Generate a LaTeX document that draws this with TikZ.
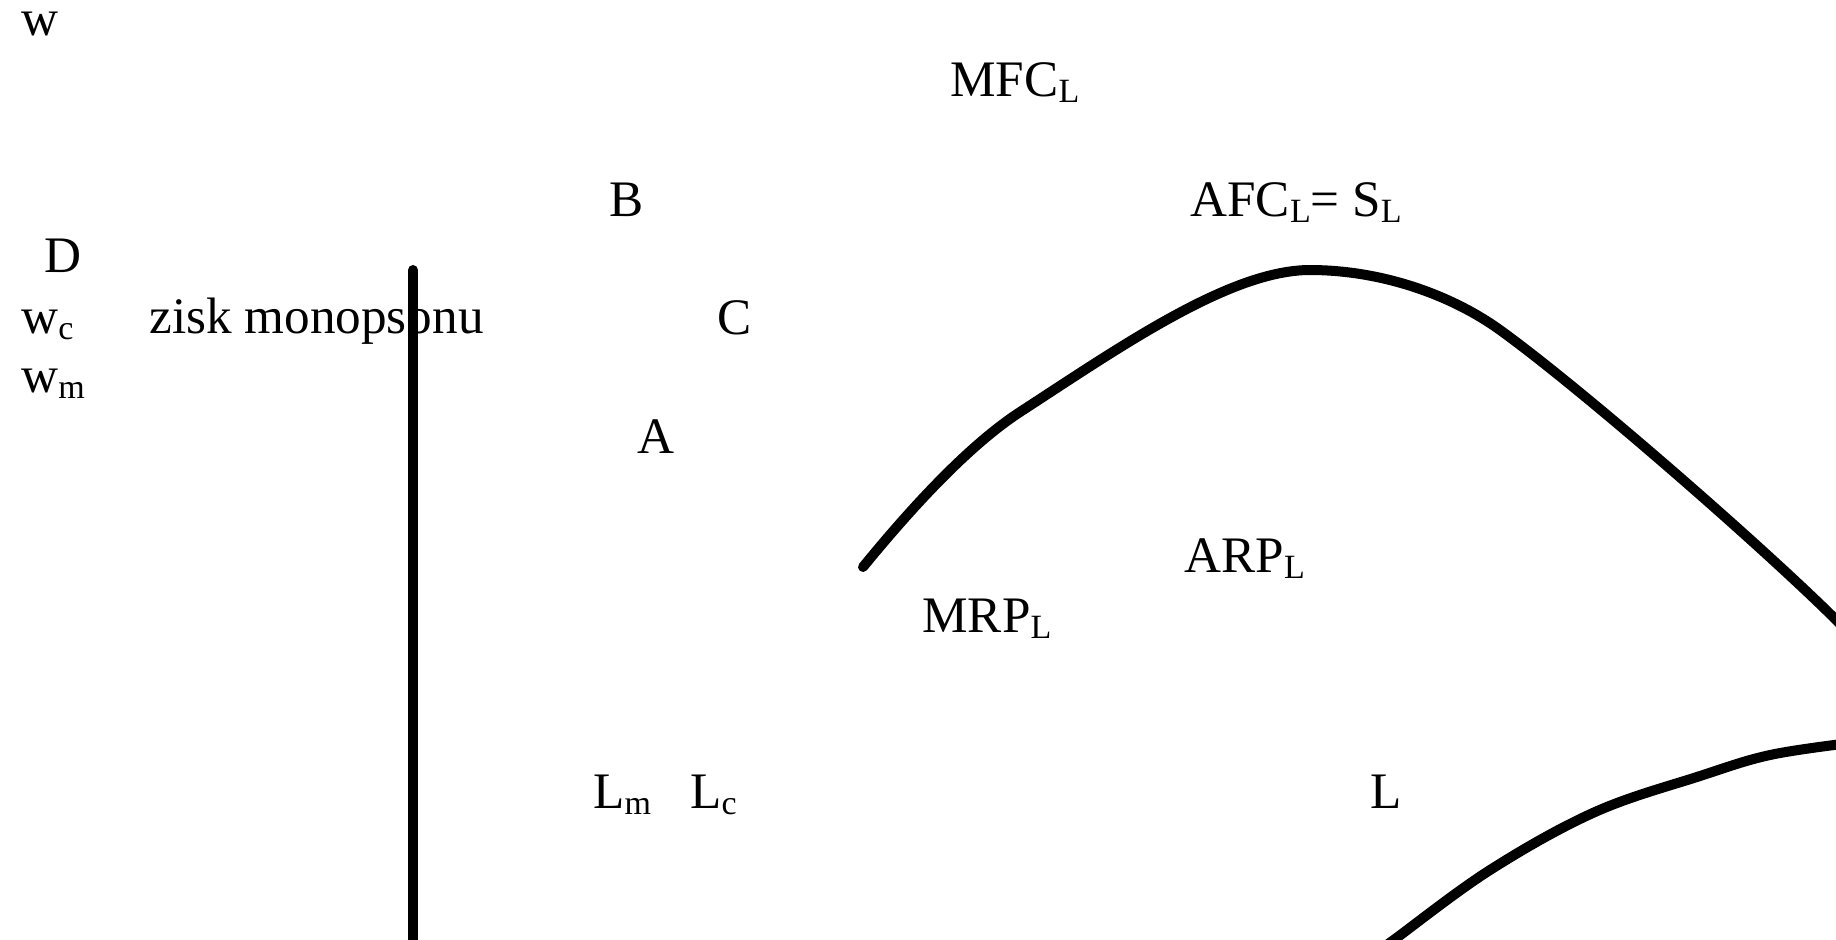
\documentclass[tikz,border=0pt]{standalone}
\usepackage{fontspec}
\setmainfont{Liberation Serif}
\newcommand\sbs[1]{\raisebox{-0.13em}{\fontsize{17}{17}\selectfont #1}}
\begin{document}
\begin{tikzpicture}[x=0.5pt,y=-0.5pt,
  lbl/.style={anchor=base west,inner sep=0pt,font=\fontsize{25.6}{30}\selectfont},
  curve/.style={line width=5pt,line cap=round,line join=round}]
\useasboundingbox (0,0) rectangle (1836,939);
\clip (0,0) rectangle (1836,939);
\node[lbl] (w) at (21,35) {w};
\node[lbl] (mfc) at (950,96) {MFC\sbs{L}};
\node[lbl] (B) at (609,216) {B};
\node[lbl] (afc) at (1190,216) {AFC\sbs{L}= S\sbs{L}};
\node[lbl] (D) at (44,272) {D};
\node[lbl] (wc) at (21,333) {w\sbs{c}};
\node[lbl] (zisk) at (149,333) {zisk monopsonu};
\node[lbl] (C) at (717,334) {C};
\node[lbl] (wm) at (21,392) {w\sbs{m}};
\node[lbl] (A) at (637,453) {A};
\node[lbl] (arp) at (1184,572) {ARP\sbs{L}};
\node[lbl] (mrp) at (922,632) {MRP\sbs{L}};
\node[lbl] (Lm) at (593,808) {L\sbs{m}};
\node[lbl] (Lc) at (690,808) {L\sbs{c}};
\node[lbl] (L) at (1370,808) {L};
% vertical line
\draw[curve] (413,270) -- (413,960);
% hump curve
\draw[curve] (863,567) .. controls (895,528) and (960,451) .. (1020,412)
  .. controls (1120,347) and (1230,270) .. (1310,270)
  .. controls (1380,270) and (1450,294) .. (1500,330)
  .. controls (1590,395) and (1790,571) .. (1850,634);
% lower curve
\draw[curve] plot[smooth,tension=0.6] coordinates {(1380,950) (1395,939) (1490,870) (1595,812) (1700,776) (1770,755) (1850,743)};
\end{tikzpicture}
\end{document}
